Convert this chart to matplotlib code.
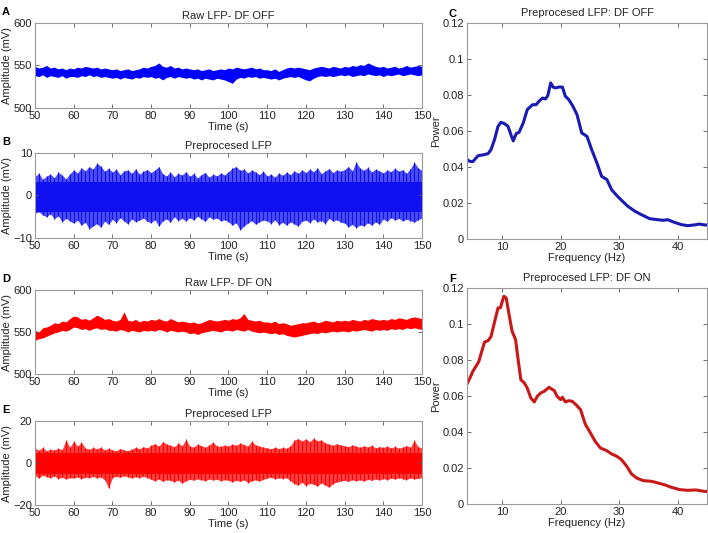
import numpy as np
import matplotlib
matplotlib.use('Agg')
import matplotlib.pyplot as plt

plt.rcParams['font.family'] = ['Liberation Sans', 'DejaVu Sans']
plt.rcParams['font.size'] = 8

# sample times (s), one envelope reading per second
t = np.arange(50, 151)

# raw LFP, DF OFF: upper / lower envelope (mV)
raw_off_hi = [549, 547, 548, 550, 547, 548, 546, 547, 545, 547,
              546, 548, 547, 549, 548, 547, 548, 546, 547, 546,
              545, 546, 544, 545, 546, 544, 545, 546, 548, 547,
              549, 550, 553, 549, 548, 550, 547, 548, 546, 547,
              546, 545, 546, 544, 545, 546, 544, 545, 546, 545,
              547, 546, 548, 547, 546, 547, 548, 546, 547, 545,
              545, 544, 546, 543, 545, 547, 548, 547, 548, 547,
              546, 545, 547, 548, 549, 548, 547, 549, 548, 547,
              549, 548, 550, 549, 551, 550, 553, 551, 549, 548,
              549, 547, 548, 549, 547, 548, 550, 548, 549, 550, 549]
raw_off_lo = [538, 537, 539, 536, 538, 537, 536, 538, 535, 537,
              537, 536, 538, 537, 539, 537, 538, 536, 537, 536,
              535, 536, 534, 536, 535, 534, 536, 535, 537, 536,
              537, 535, 536, 533, 536, 537, 535, 537, 536, 535,
              536, 534, 535, 533, 535, 534, 533, 535, 534, 533,
              531, 529, 534, 536, 535, 537, 536, 537, 535, 536,
              535, 534, 535, 533, 535, 536, 537, 536, 537, 535,
              533, 532, 535, 537, 538, 537, 538, 537, 538, 539,
              538, 539, 537, 538, 539, 538, 540, 539, 538, 539,
              537, 539, 538, 539, 540, 538, 539, 540, 539, 538, 539]

# preprocessed LFP, DF OFF: spike peaks and the dense core band
pre_off_hi = [4.5, 5.2, 3.8, 4.6, 5.0, 4.2, 5.5, 4.8, 3.9, 5.1,
              6.0, 5.3, 6.5, 5.8, 6.8, 6.2, 7.6, 6.9, 5.7, 6.4,
              5.5, 6.2, 4.9, 5.8, 6.0, 5.2, 6.3, 5.0, 5.7, 6.1,
              5.4, 6.0, 6.8, 5.1, 4.6, 5.5, 4.4, 5.2, 4.8, 5.6,
              4.5, 5.2, 4.1, 4.9, 5.4, 4.3, 5.0, 4.6, 5.3, 4.8,
              5.6, 6.4, 6.8, 5.9, 6.2, 5.3, 6.0, 5.5, 4.9, 5.7,
              4.6, 5.0, 4.3, 5.3, 4.7, 5.5, 4.9, 5.8, 5.2, 6.0,
              5.4, 6.2, 5.6, 6.5, 5.1, 5.8, 6.3, 5.4, 6.0, 5.7,
              6.1, 6.8, 5.8, 7.9, 6.4, 5.9, 6.6, 5.5, 6.2, 5.8,
              5.3, 6.0, 5.6, 6.4, 5.7, 6.1, 5.2, 6.3, 7.8, 6.5, 5.9]
pre_off_lo = [-4.2, -3.8, -4.6, -5.0, -4.3, -5.5, -4.8, -6.2, -5.4, -6.0,
              -6.5, -5.8, -7.0, -6.3, -7.8, -7.2, -6.6, -7.5, -6.0, -6.8,
              -5.6, -6.4, -5.2, -6.0, -6.7, -5.5, -6.2, -5.8, -5.3, -6.1,
              -6.4, -5.7, -7.2, -6.0, -5.5, -6.3, -5.0, -5.9, -5.4, -6.0,
              -5.2, -5.8, -4.9, -5.5, -6.1, -5.0, -5.6, -5.3, -6.0, -5.7,
              -6.2, -7.0, -6.4, -8.1, -7.2, -6.5, -5.9, -6.8, -6.2, -5.8,
              -6.0, -6.6, -5.7, -6.9, -6.3, -7.0, -6.2, -6.7, -7.2, -6.1,
              -5.8, -6.4, -5.5, -6.2, -5.9, -6.6, -5.4, -6.1, -5.7, -6.3,
              -6.5, -7.4, -6.8, -7.6, -6.9, -7.2, -6.4, -7.0, -6.2, -6.8,
              -5.5, -6.1, -5.2, -5.8, -5.4, -6.0, -5.6, -5.9, -6.3, -5.7, -5.3]
pre_off_core = (-3.8, 3.2)

# raw LFP, DF ON
raw_on_hi = [552, 550, 555, 556, 558, 561, 560, 563, 562, 566,
             569, 568, 565, 566, 564, 567, 570, 568, 565, 566,
             564, 563, 565, 574, 564, 563, 565, 562, 564, 563,
             565, 564, 566, 564, 563, 566, 564, 562, 563, 562,
             561, 562, 560, 561, 563, 565, 564, 563, 564, 565,
             564, 566, 565, 567, 572, 565, 564, 563, 564, 562,
             562, 561, 563, 560, 561, 560, 558, 559, 560, 561,
             561, 562, 563, 561, 562, 564, 563, 562, 564, 563,
             564, 563, 565, 564, 563, 565, 564, 566, 565, 564,
             565, 564, 566, 565, 567, 566, 565, 567, 568, 567, 566]
raw_on_lo = [540, 542, 543, 545, 547, 549, 550, 552, 551, 553,
             556, 555, 553, 554, 552, 554, 555, 553, 554, 552,
             552, 551, 553, 552, 550, 552, 551, 550, 552, 551,
             552, 551, 553, 552, 550, 552, 551, 550, 551, 550,
             548, 549, 547, 549, 550, 551, 552, 551, 550, 552,
             552, 551, 553, 552, 551, 553, 551, 550, 549, 550,
             549, 548, 549, 547, 548, 546, 545, 544, 545, 546,
             547, 548, 549, 548, 550, 549, 550, 551, 550, 551,
             551, 550, 552, 551, 552, 553, 552, 551, 553, 552,
             553, 552, 554, 553, 554, 553, 555, 554, 555, 554, 553]

# preprocessed LFP, DF ON
pre_on_hi = [7.2, 6.0, 7.5, 5.8, 6.5, 6.2, 7.0, 6.4, 10.9, 7.5,
             10.3, 8.0, 9.8, 7.2, 6.5, 7.4, 6.8, 7.6, 6.2, 7.0,
             6.3, 5.8, 6.9, 6.2, 5.9, 6.6, 7.5, 6.8, 7.8, 7.1,
             8.5, 9.2, 8.0, 10.2, 9.0, 8.4, 7.8, 9.5, 8.2, 11.2,
             8.0, 7.6, 9.0, 8.3, 7.5, 8.6, 9.8, 8.2, 7.9, 8.5,
             8.1, 9.0, 8.4, 9.5, 8.8, 8.0, 10.4, 8.6, 8.0, 7.6,
             7.2, 6.8, 7.5, 6.9, 7.4, 7.0, 8.2, 10.8, 11.6, 10.5,
             11.5, 10.2, 11.8, 10.6, 11.0, 9.6, 9.0, 8.4, 9.2, 8.6,
             8.2, 7.8, 8.6, 8.0, 7.5, 8.2, 7.6, 8.4, 7.2, 7.8,
             7.4, 8.0, 7.2, 7.9, 7.0, 7.6, 8.3, 7.5, 10.8, 7.8, 7.2]
pre_on_lo = [-6.0, -7.2, -5.8, -6.5, -7.0, -6.2, -7.4, -6.8, -7.6, -6.9,
             -7.2, -6.6, -7.5, -6.8, -7.0, -6.4, -7.1, -6.7, -8.0, -11.9,
             -7.0, -6.4, -6.8, -6.1, -6.6, -7.2, -6.5, -7.0, -6.3, -6.9,
             -7.8, -8.5, -7.6, -8.8, -7.9, -8.3, -9.0, -8.1, -9.6, -8.4,
             -7.8, -8.2, -7.5, -8.0, -8.4, -7.6, -8.1, -7.7, -8.5, -7.9,
             -8.3, -9.0, -8.2, -8.8, -8.0, -9.3, -8.5, -8.0, -8.6, -7.8,
             -7.2, -6.8, -7.6, -7.0, -7.4, -6.9, -8.5, -9.8, -10.5, -9.2,
             -10.8, -9.6, -10.2, -11.0, -9.4, -10.6, -11.5, -9.8, -9.0, -8.6,
             -8.2, -8.8, -7.9, -8.5, -8.0, -8.6, -7.8, -8.3, -7.6, -8.1,
             -7.4, -8.0, -7.2, -7.7, -7.0, -7.5, -7.9, -7.1, -7.6, -7.3, -7.0]
pre_on_core = (-5.0, 4.8)

# power spectra
freq_off = [3.9, 4.5, 5.0, 5.9, 6.7, 7.6, 8.1, 8.7, 9.3, 9.8, 10.4, 11.0, 11.5,
            11.9, 12.4, 12.9, 13.6, 14.3, 15.2, 15.8, 16.3, 16.9, 17.4, 17.8,
            18.3, 18.7, 19.1, 19.7, 20.3, 20.8, 21.4, 22.1, 22.8, 23.6, 24.5,
            25.3, 26.2, 27.0, 27.9, 28.7, 29.6, 30.4, 31.5, 32.7, 33.8, 35.2,
            36.6, 37.5, 38.3, 39.4, 40.6, 41.7, 42.8, 43.7, 44.6, 45.2]
power_off = [0.0444, 0.0431, 0.0430, 0.0463, 0.0467, 0.0474, 0.0496, 0.0552,
             0.0626, 0.0648, 0.0641, 0.0626, 0.0580, 0.0545, 0.0585, 0.0593,
             0.0644, 0.0719, 0.0746, 0.0746, 0.0765, 0.0783, 0.0778, 0.0796,
             0.0867, 0.0844, 0.0839, 0.0844, 0.0844, 0.0793, 0.0774, 0.0737,
             0.0690, 0.0589, 0.0570, 0.0496, 0.0422, 0.0348, 0.0330, 0.0274,
             0.0241, 0.0215, 0.0181, 0.0154, 0.0135, 0.0113, 0.0107, 0.0104,
             0.0107, 0.0093, 0.0080, 0.0074, 0.0078, 0.0083, 0.0078, 0.0078]

freq_on = [3.9, 4.5, 5.0, 6.0, 7.0, 7.6, 8.1, 8.7, 9.3, 9.7, 10.3, 10.7, 11.2,
           11.7, 12.3, 12.7, 13.2, 13.8, 14.3, 14.9, 15.5, 16.0, 16.6, 17.2,
           18.0, 18.9, 19.4, 20.0, 20.3, 20.8, 21.4, 22.0, 22.6, 23.4, 24.2,
           25.1, 25.9, 26.8, 27.9, 28.7, 29.6, 30.4, 31.3, 32.1, 33.0, 34.1,
           35.5, 36.6, 37.7, 38.9, 40.3, 41.7, 43.1, 44.6, 45.2]
power_on = [0.0660, 0.0700, 0.0737, 0.0790, 0.0900, 0.0907, 0.0930, 0.1010,
            0.1089, 0.1090, 0.1154, 0.1144, 0.1050, 0.0960, 0.0913, 0.0810,
            0.0690, 0.0672, 0.0644, 0.0589, 0.0567, 0.0598, 0.0617, 0.0626,
            0.0648, 0.0630, 0.0598, 0.0580, 0.0593, 0.0567, 0.0574, 0.0570,
            0.0552, 0.0524, 0.0444, 0.0394, 0.0348, 0.0311, 0.0296, 0.0278,
            0.0265, 0.0246, 0.0209, 0.0167, 0.0144, 0.0130, 0.0126, 0.0117,
            0.0107, 0.0093, 0.0080, 0.0076, 0.0078, 0.0070, 0.0070]

TXT = '#222222'
SPINE = '#9a9a9a'


def style_axes(ax):
    for s in ax.spines.values():
        s.set_color(SPINE)
        s.set_linewidth(0.8)
    ax.tick_params(direction='in', length=3, width=0.6, color='#555555',
                   top=True, right=True, labelsize=8, labelcolor=TXT, pad=2)


def time_axes(rect, ylim, yticks, title, letter):
    ax = fig.add_axes(rect)
    ax.set_xlim(50, 150)
    ax.set_ylim(*ylim)
    ax.set_xticks(np.arange(50, 151, 10))
    ax.set_yticks(yticks)
    ax.set_xlabel('Time (s)', color=TXT, labelpad=1)
    ax.set_ylabel('Amplitude (mV)', color=TXT, labelpad=1)
    ax.set_title(title, color=TXT, fontsize=8, pad=3)
    ax.text(-0.085, 1.13, letter, transform=ax.transAxes, fontsize=8,
            fontweight='bold', ha='left', va='center')
    style_axes(ax)
    return ax


def raw_panel(rect, hi, lo, color, title, letter):
    ax = time_axes(rect, (500, 600), [500, 550, 600], title, letter)
    ax.fill_between(t, lo, hi, color=color, lw=0)
    return ax


def pre_panel(rect, hi, lo, core, color, ylim, yticks, title, letter):
    ax = time_axes(rect, ylim, yticks, title, letter)
    # spiky outer envelope, lighter, with the dense core on top
    ax.fill_between(t, lo, hi, color=color, lw=0, alpha=0.75)
    ax.vlines(t, lo, hi, color=color, lw=0.8)
    ax.axhspan(core[0], core[1], color=color, lw=0)
    return ax


def spec_panel(rect, f, p, color, title, letter):
    ax = fig.add_axes(rect)
    ax.plot(f, p, color=color, lw=2.2, solid_joinstyle='round')
    ax.set_xlim(4, 45)
    ax.set_ylim(0, 0.12)
    ax.set_xticks([10, 20, 30, 40])
    yt = [0, 0.02, 0.04, 0.06, 0.08, 0.1, 0.12]
    ax.set_yticks(yt)
    ax.set_yticklabels(['0', '0.02', '0.04', '0.06', '0.08', '0.1', '0.12'])
    ax.set_xlabel('Frequency (Hz)', color=TXT, labelpad=1)
    ax.set_ylabel('Power', color=TXT, labelpad=1)
    ax.set_title(title, color=TXT, fontsize=8, pad=5)
    ax.text(-0.075, 1.04, letter, transform=ax.transAxes, fontsize=8,
            fontweight='bold', ha='left', va='center')
    style_axes(ax)
    return ax


fig = plt.figure(figsize=(7.08, 5.33), dpi=100)

raw_panel([0.0494, 0.7974, 0.5466, 0.1595], raw_off_hi, raw_off_lo, '#0000ff',
          'Raw LFP- DF OFF', 'A')
pre_panel([0.0494, 0.5535, 0.5466, 0.1595], pre_off_hi, pre_off_lo, pre_off_core,
          '#1010f0', (-10, 10), [-10, 0, 10], 'Preprocesed LFP', 'B')
raw_panel([0.0494, 0.2983, 0.5466, 0.1576], raw_on_hi, raw_on_lo, '#ff0000',
          'Raw LFP- DF ON', 'D')
pre_panel([0.0494, 0.0525, 0.5466, 0.1576], pre_on_hi, pre_on_lo, pre_on_core,
          '#ff0000', (-20, 20), [-20, 0, 20], 'Preprocesed LFP', 'E')

spec_panel([0.6596, 0.5516, 0.3390, 0.4053], freq_off, power_off, '#1a1ab4',
           'Preprocesed LFP: DF OFF', 'C')
spec_panel([0.6596, 0.0544, 0.3390, 0.4053], freq_on, power_on, '#c81818',
           'Preprocesed LFP: DF ON', 'F')

fig.savefig('out.png', dpi=100)
